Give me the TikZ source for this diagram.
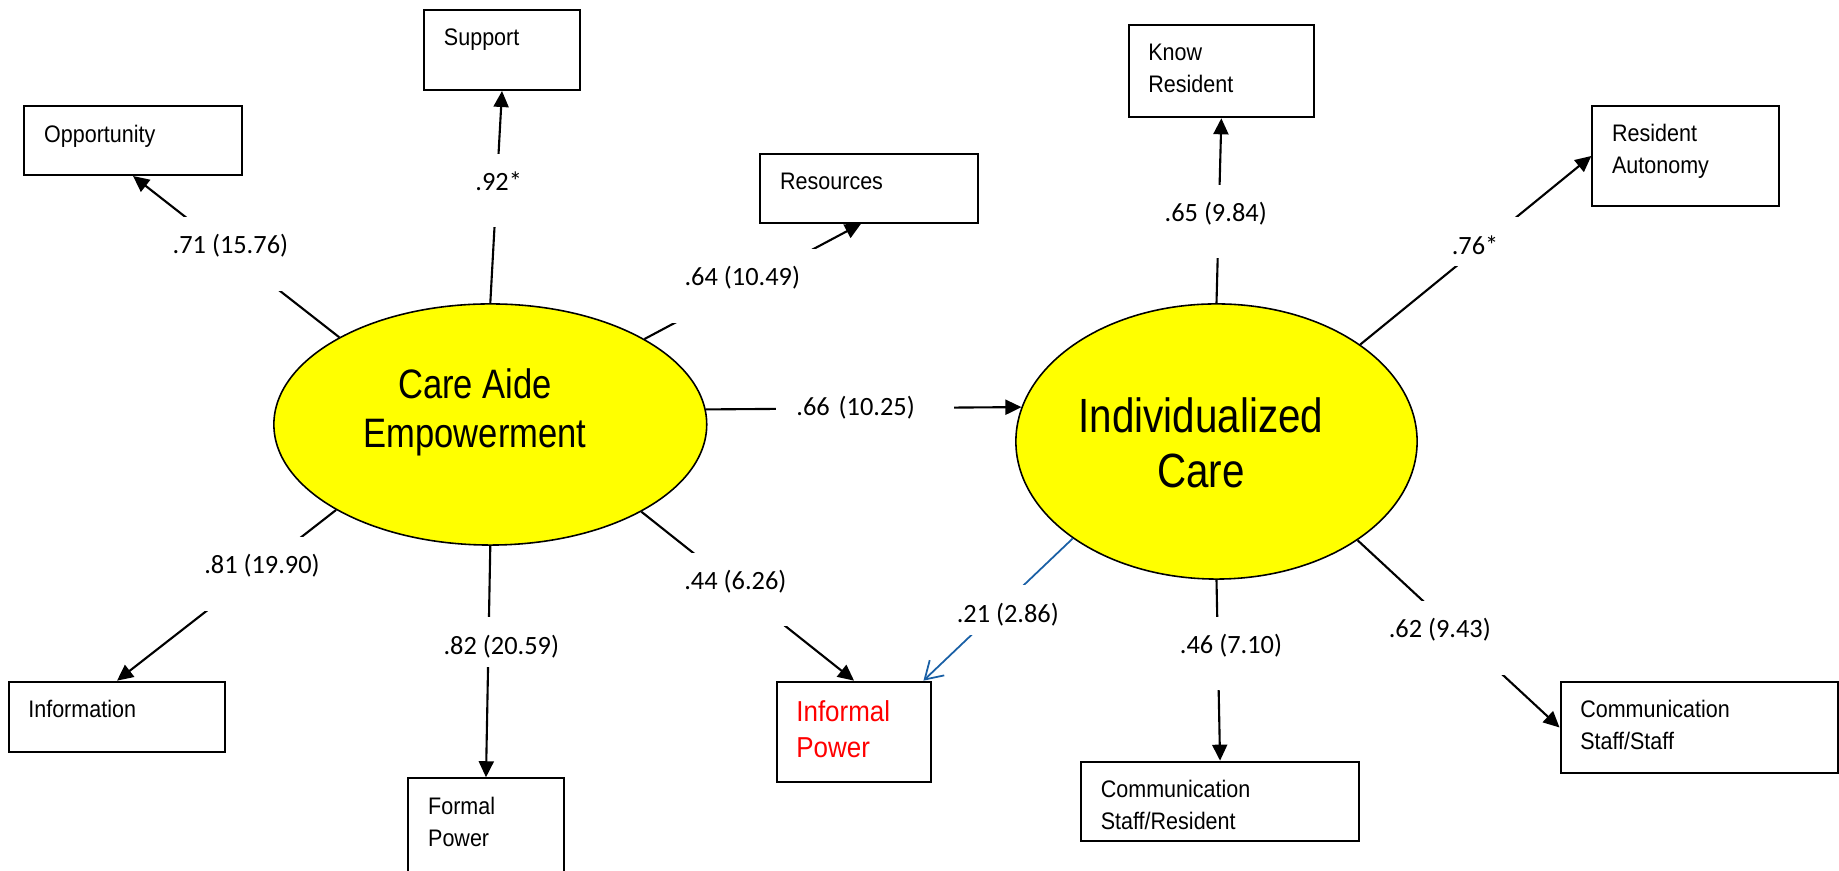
\documentclass[tikz,border=0pt]{standalone}
\usepackage{fontspec}
\usetikzlibrary{shapes.geometric,arrows.meta}
\newfontfamily\boxfont{Liberation Sans}[FakeStretch=0.9]
\newfontfamily\ellfont{Liberation Sans}[FakeStretch=0.84]
\newfontfamily\coeffont{Carlito}
\definecolor{pathblue}{RGB}{25,95,165}
\definecolor{latentyellow}{RGB}{255,255,0}
\tikzset{
  box/.style 2 args={draw, line width=0.57pt, inner sep=0pt, minimum width=#1, minimum height=#2},
  boxtxt/.style={anchor=north west, inner sep=0pt, xshift=0.2cm, yshift=-0.19cm, align=left,
    font=\boxfont\fontsize{6.8}{9.1}\selectfont},
  latent/.style 2 args={ellipse, draw, line width=0.45pt, fill=latentyellow, inner sep=0pt,
    minimum width=#1, minimum height=#2},
  conn/.style={line width=0.6pt, -{Triangle[length=0.16cm, width=0.15cm]}},
  coef/.style={fill=white, font=\coeffont\fontsize{7.5}{9}\selectfont, inner xsep=0pt, minimum width=1.5cm},
  gaptall/.style={coef, inner ysep=0pt, text height=0.365cm, text depth=0.365cm},
  gapshort/.style={coef, inner ysep=0pt, text height=0.368cm, text depth=0.122cm}
}
\begin{document}
\begin{tikzpicture}[x=0.01cm, y=-0.01cm]
  \useasboundingbox (0,0) rectangle (1839,871);

  % Latent variables
  \node[latent={4.326cm}{2.41cm},
        label={[font=\ellfont\fontsize{11.7}{14.05}\selectfont, align=center, xshift=-0.153cm, yshift=0.12cm]center:{Care Aide\\Empowerment}}]
        (CAE) at (490.3,424.5) {};
  \node[latent={4.01cm}{2.75cm},
        label={[font=\ellfont\fontsize{13.66}{15.56}\selectfont, align=center, xshift=-0.155cm, yshift=-0.013cm]center:{Individualized\\Care}}]
        (IC) at (1216.5,441.5) {};

  % Indicators of empowerment
  \node[box={2.171cm}{0.69cm}, label={[boxtxt]north west:Opportunity}] (Opp) at (133.05,140.5) {};
  \node[box={1.554cm}{0.8cm}, label={[boxtxt]north west:Support}] (Sup) at (502,50) {};
  \node[box={2.171cm}{0.687cm}, label={[boxtxt]north west:Resources}] (Res) at (869.05,188.35) {};
  \node[box={2.167cm}{0.7cm}, label={[boxtxt]north west:Information}] (Info) at (117.05,716.7) {};
  \node[box={1.55cm}{1.02cm}, label={[boxtxt]north west:{Formal\\Power}}] (FP) at (486,829.3) {};
  \node[box={1.547cm}{1cm}, label={[boxtxt, text=red, font=\boxfont\fontsize{8.2}{10.2}\selectfont]north west:{Informal\\Power}}] (IP) at (854.05,731.7) {};

  % Indicators of individualized care
  \node[box={1.853cm}{0.92cm}, label={[boxtxt]north west:{Know\\Resident}}] (KR) at (1221.35,71.3) {};
  \node[box={1.863cm}{1cm}, label={[boxtxt]north west:{Resident\\Autonomy}}] (RA) at (1685.55,156) {};
  \node[box={2.777cm}{0.793cm}, label={[boxtxt]north west:{Communication\\Staff/Resident}}] (CSR) at (1220.05,801.35) {};
  \node[box={2.771cm}{0.916cm}, label={[boxtxt]north west:{Communication\\Staff/Staff}}] (CSS) at (1699.15,727.5) {};

  % Paths
  \draw[conn] (CAE.150.6) -- (Opp.south);
  \draw[conn] (CAE.north) -- (Sup.south);
  \draw[conn] (CAE.29.2) -- ([xshift=-0.08cm]Res.south);
  \draw[conn] (CAE.4.6) -- (IC.170);
  \draw[conn] (CAE.209.4) -- (Info.north);
  \draw[conn] (CAE.south) -- (FP.north);
  \draw[conn] (CAE.330.8) -- (IP.north);
  \draw[conn] (IC.north) -- (KR.south);
  \draw[conn] (IC.34.6) -- (RA.west);
  \draw[conn] (IC.south) -- (CSR.north);
  \draw[conn] (IC.325.5) -- (CSS.west);
  \draw[pathblue, line width=0.5pt, -{Straight Barb[length=0.17cm, width=0.21cm]}] (IC.214.8) -- ([xshift=-0.09cm]IP.north east);

  % Loadings
  \node[gaptall] (l71) at (230.4,254) {.71 (15.76)};
  \node[gaptall] (l92) at (498.7,190.3) {.92*};
  \node[gaptall] (l64) at (742.3,286) {.64 (10.49)};
  \node[coef, text width=1.37cm, align=left, inner xsep=0.2cm] (l66) at (865,407.3) {.66 (10.25)};
  \node[gaptall] (l81) at (262,574) {.81 (19.90)};
  \node[gapshort] (l82) at (501.3,642) {.82 (20.59)};
  \node[gaptall] (l44) at (735.4,589.7) {.44 (6.26)};
  \node[gapshort] (l21) at (1007.8,610) {.21 (2.86)};
  \node[gaptall] (l65) at (1215.7,221.7) {.65 (9.84)};
  \node[gapshort] (l76) at (1475,242) {.76*};
  \node[gaptall] (l46) at (1231,653.7) {.46 (7.10)};
  \node[gaptall] (l62) at (1439.8,638) {.62 (9.43)};
\end{tikzpicture}
\end{document}
